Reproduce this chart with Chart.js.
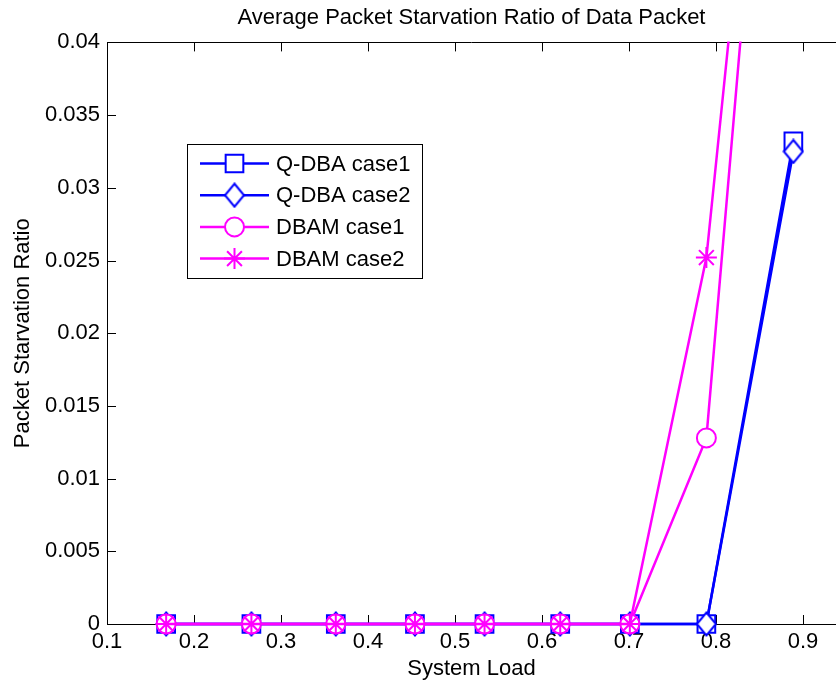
<!DOCTYPE html>
<html><head><meta charset="utf-8">
<script src="https://cdn.jsdelivr.net/npm/chart.js@4/dist/chart.umd.min.js"></script>
<style>html,body{margin:0;padding:0;background:#fff;overflow:hidden}</style>
</head><body>
<canvas id="c" width="836" height="688"></canvas>
<script>
// ---- data ----
const loads = [0.168, 0.266, 0.363, 0.454, 0.534, 0.621, 0.701, 0.789, 0.889];
const qdbaCase1 = [0, 0, 0, 0, 0, 0, 0, 0, 0.0332];
const qdbaCase2 = [0, 0, 0, 0, 0, 0, 0, 0, 0.0325];
const dbamCase1 = [0, 0, 0, 0, 0, 0, 0, 0.0128, 0.0826];
const dbamCase2 = [0, 0, 0, 0, 0, 0, 0, 0.0252, 0.0837];
const seriesNames = ['Q-DBA case1', 'Q-DBA case2', 'DBAM case1', 'DBAM case2'];
const xTicks = [0.1, 0.2, 0.3, 0.4, 0.5, 0.6, 0.7, 0.8, 0.9];
const yTicks = [0, 0.005, 0.01, 0.015, 0.02, 0.025, 0.03, 0.035, 0.04];
const titleText = 'Average Packet Starvation Ratio of Data Packet';
const xTitle = 'System Load';
const yTitle = 'Packet Starvation Ratio';

const FONT = '"Liberation Sans", Arial, Helvetica, sans-serif';
const BLUE = '#0000ff', MAG = '#ff00ff';

function pts(ys){ return loads.map((x,i)=>({x:x, y:ys[i]})); }

// MATLAB-like (taller) diamond marker
function diamondMarker(color){
  const c = document.createElement('canvas');
  c.width = 22; c.height = 26;
  const g = c.getContext('2d');
  g.beginPath();
  g.moveTo(11, 1.5); g.lineTo(20.5, 13); g.lineTo(11, 24.5); g.lineTo(1.5, 13); g.closePath();
  g.fillStyle = '#fff'; g.fill();
  g.strokeStyle = color; g.lineWidth = 2; g.stroke();
  return c;
}

const styles = [
  {color: BLUE, pointStyle: 'rect', pointRadius: 12.5, order: 4},
  {color: BLUE, pointStyle: diamondMarker(BLUE), pointRadius: 11, order: 3},
  {color: MAG, pointStyle: 'circle', pointRadius: 9.5, order: 2},
  {color: MAG, pointStyle: 'star', pointRadius: 10.5, order: 1}
];
const seriesData = [qdbaCase1, qdbaCase2, dbamCase1, dbamCase2];

const datasets = seriesNames.map((name, i) => ({
  label: name,
  data: pts(seriesData[i]),
  borderColor: styles[i].color,
  backgroundColor: styles[i].color,
  borderWidth: 2.5,
  tension: 0,
  pointStyle: styles[i].pointStyle,
  pointRadius: styles[i].pointRadius,
  pointHoverRadius: styles[i].pointRadius,
  pointBorderWidth: 2,
  pointBorderColor: styles[i].color,
  pointBackgroundColor: '#ffffff',
  clip: {left: 20, right: 20, top: 1, bottom: 20},
  order: styles[i].order
}));

const framePlugin = {
  id: 'frame',
  beforeDatasetsDraw(chart){
    const {ctx, chartArea: a, scales: {x, y}} = chart;
    ctx.save();
    ctx.strokeStyle = '#000'; ctx.lineWidth = 1;
    ctx.beginPath();
    ctx.moveTo(a.left, Math.round(a.top) + 0.5); ctx.lineTo(a.right, Math.round(a.top) + 0.5);
    const tl = 9;
    xTicks.forEach(v => {
      const px = Math.round(x.getPixelForValue(v)) + 0.5;
      ctx.moveTo(px, a.bottom); ctx.lineTo(px, a.bottom - tl);
      ctx.moveTo(px, a.top); ctx.lineTo(px, a.top + tl);
    });
    yTicks.forEach(v => {
      const py = Math.round(y.getPixelForValue(v)) + 0.5;
      ctx.moveTo(a.left, py); ctx.lineTo(a.left + tl, py);
    });
    ctx.stroke();
    ctx.restore();
  }
};

const legendPlugin = {
  id: 'boxLegend',
  afterDraw(chart){
    const ctx = chart.ctx;
    ctx.save();
    const bx = 187, by = 144, bw = 235, bh = 134;
    ctx.fillStyle = '#fff'; ctx.fillRect(bx, by, bw, bh);
    ctx.strokeStyle = '#000'; ctx.lineWidth = 1;
    ctx.strokeRect(bx + 0.5, by + 0.5, bw, bh);
    chart.data.datasets.forEach((ds, i) => {
      const yy = 163.5 + i * 31.7;
      ctx.strokeStyle = ds.borderColor; ctx.lineWidth = ds.borderWidth;
      ctx.beginPath(); ctx.moveTo(200, yy); ctx.lineTo(269, yy); ctx.stroke();
      ctx.fillStyle = '#fff'; ctx.strokeStyle = ds.borderColor; ctx.lineWidth = ds.pointBorderWidth;
      Chart.helpers.drawPoint(ctx, {pointStyle: ds.pointStyle, rotation: 0, radius: ds.pointRadius, borderWidth: ds.pointBorderWidth}, 234.5, yy);
      ctx.fillStyle = '#000';
      ctx.font = '22px ' + FONT;
      ctx.textBaseline = 'middle'; ctx.textAlign = 'left';
      ctx.fillText(ds.label, 276, yy + 1);
    });
    ctx.restore();
  }
};

new Chart(document.getElementById('c'), {
  type: 'line',
  data: {datasets},
  options: {
    responsive: false,
    animation: false,
    layout: {padding: 0, autoPadding: false},
    plugins: {
      legend: {display: false},
      tooltip: {enabled: false},
      title: {display: true, fullSize: false, text: titleText, color: '#000',
        font: {family: FONT, size: 22, weight: 'normal'}, padding: {top: 5, bottom: 11}}
    },
    scales: {
      x: {
        type: 'linear', min: 0.1, max: 0.938,
        grid: {display: false, drawTicks: false},
        border: {display: true, color: '#000', width: 1},
        afterBuildTicks: s => { s.ticks = xTicks.map(v => ({value: v})); },
        afterFit: s => { s.height = 64; s.paddingLeft = 0; s.paddingRight = 0; },
        ticks: {color: '#000', font: {family: FONT, size: 22}, padding: 5, autoSkip: false, maxRotation: 0,
          callback: v => String(v)},
        title: {display: true, text: xTitle, color: '#000', font: {family: FONT, size: 22}, padding: {top: 0, bottom: 6}}
      },
      y: {
        type: 'linear', min: 0, max: 0.04,
        grid: {display: false, drawTicks: false},
        border: {display: true, color: '#000', width: 1},
        afterBuildTicks: s => { s.ticks = yTicks.map(v => ({value: v})); },
        afterFit: s => { s.width = 107; s.paddingTop = 0; s.paddingBottom = 0; },
        ticks: {color: '#000', font: {family: FONT, size: 22}, padding: 7, autoSkip: false,
          callback: v => String(v)},
        title: {display: true, text: yTitle, color: '#000', font: {family: FONT, size: 22}, padding: {top: 10, bottom: 0}}
      }
    }
  },
  plugins: [framePlugin, legendPlugin]
});
</script>
</body></html>
